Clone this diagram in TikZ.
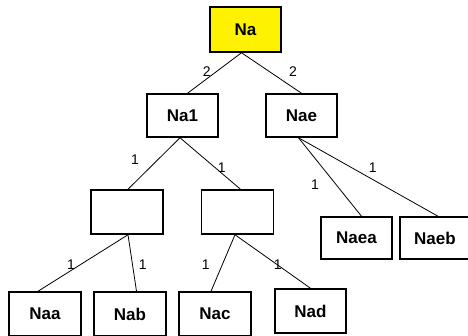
\documentclass[tikz,border=0pt]{standalone}
\usepackage{fontspec}
\setmainfont{Liberation Sans}
\usetikzlibrary{calc}
\tikzset{
  box/.style={draw=black, line width=1.5pt, fill=white, minimum width=71pt, minimum height=43pt, inner sep=0pt, font=\fontsize{17}{19}\selectfont\bfseries},
  edge/.style={draw=black, line width=0.8pt},
  wt/.style={font=\fontsize{14}{16}\selectfont, inner sep=0pt}
}
\begin{document}
\begin{tikzpicture}[x=1pt,y=-1pt]
\useasboundingbox (0,0) rectangle (468,335);
\clip (0,0) rectangle (468,335);
\fill[white] (0,0) rectangle (468,335);
% nodes
\node[box, fill=yellow, minimum height=45pt] (Na) at (245.5,29.5) {Na};
\node[box] (Na1) at (182.5,115.5) {Na1};
\node[box] (Nae) at (301.5,115.5) {Nae};
\node[box, minimum width=72pt, minimum height=44pt] (E1) at (127,212) {};
\node[box, minimum width=72pt, minimum height=44pt] (E2) at (237.5,212) {};
\node[box, minimum height=42pt] (Naea) at (356.5,238) {Naea};
\node[box, minimum width=70pt, minimum height=42pt] (Naeb) at (435,238) {Naeb};
\node[box, minimum width=72pt, minimum height=44pt] (Naa) at (45,314) {Naa};
\node[box, minimum width=72pt, minimum height=44pt] (Nab) at (130,314) {Nab};
\node[box, minimum width=72pt, minimum height=44pt] (Nac) at (215,314) {Nac};
\node[box, minimum height=44pt] (Nad) at (310.5,311) {Nad};
% edges
\draw[edge] ([xshift=-4pt]Na.south) -- ([xshift=5pt]Na1.north);
\draw[edge] ([xshift=-4pt]Na.south) -- (Nae.north);
\draw[edge] ([xshift=-2.5pt]Na1.south) -- ([xshift=1pt]E1.north);
\draw[edge] ([xshift=-2.5pt]Na1.south) -- ([xshift=3pt]E2.north);
\draw[edge] ([xshift=-3pt]Nae.south) -- ([xshift=5pt]Naea.north);
\draw[edge] ([xshift=-3pt]Nae.south) -- ([xshift=3pt]Naeb.north);
\draw[edge] ([xshift=1pt]E1.south) -- ([xshift=-7pt]Naa.north);
\draw[edge] ([xshift=1pt]E1.south) -- ([xshift=6.5pt]Nab.north);
\draw[edge] ([xshift=-2.5pt]E2.south) -- ([xshift=-4pt]Nac.north);
\draw[edge] ([xshift=-2.5pt]E2.south) -- (Nad.north);
% weights
\node[wt] (w1) at (206.7,71.5) {2};
\node[wt] (w2) at (293,71.5) {2};
\node[wt] (w3) at (135,160) {1};
\node[wt] (w4) at (221.7,168) {1};
\node[wt] (w5) at (315,185) {1};
\node[wt] (w6) at (372.7,168) {1};
\node[wt] (w7) at (71,265) {1};
\node[wt] (w8) at (142.7,265) {1};
\node[wt] (w9) at (205.7,265) {1};
\node[wt] (w10) at (277.7,265) {1};
\end{tikzpicture}
\end{document}
